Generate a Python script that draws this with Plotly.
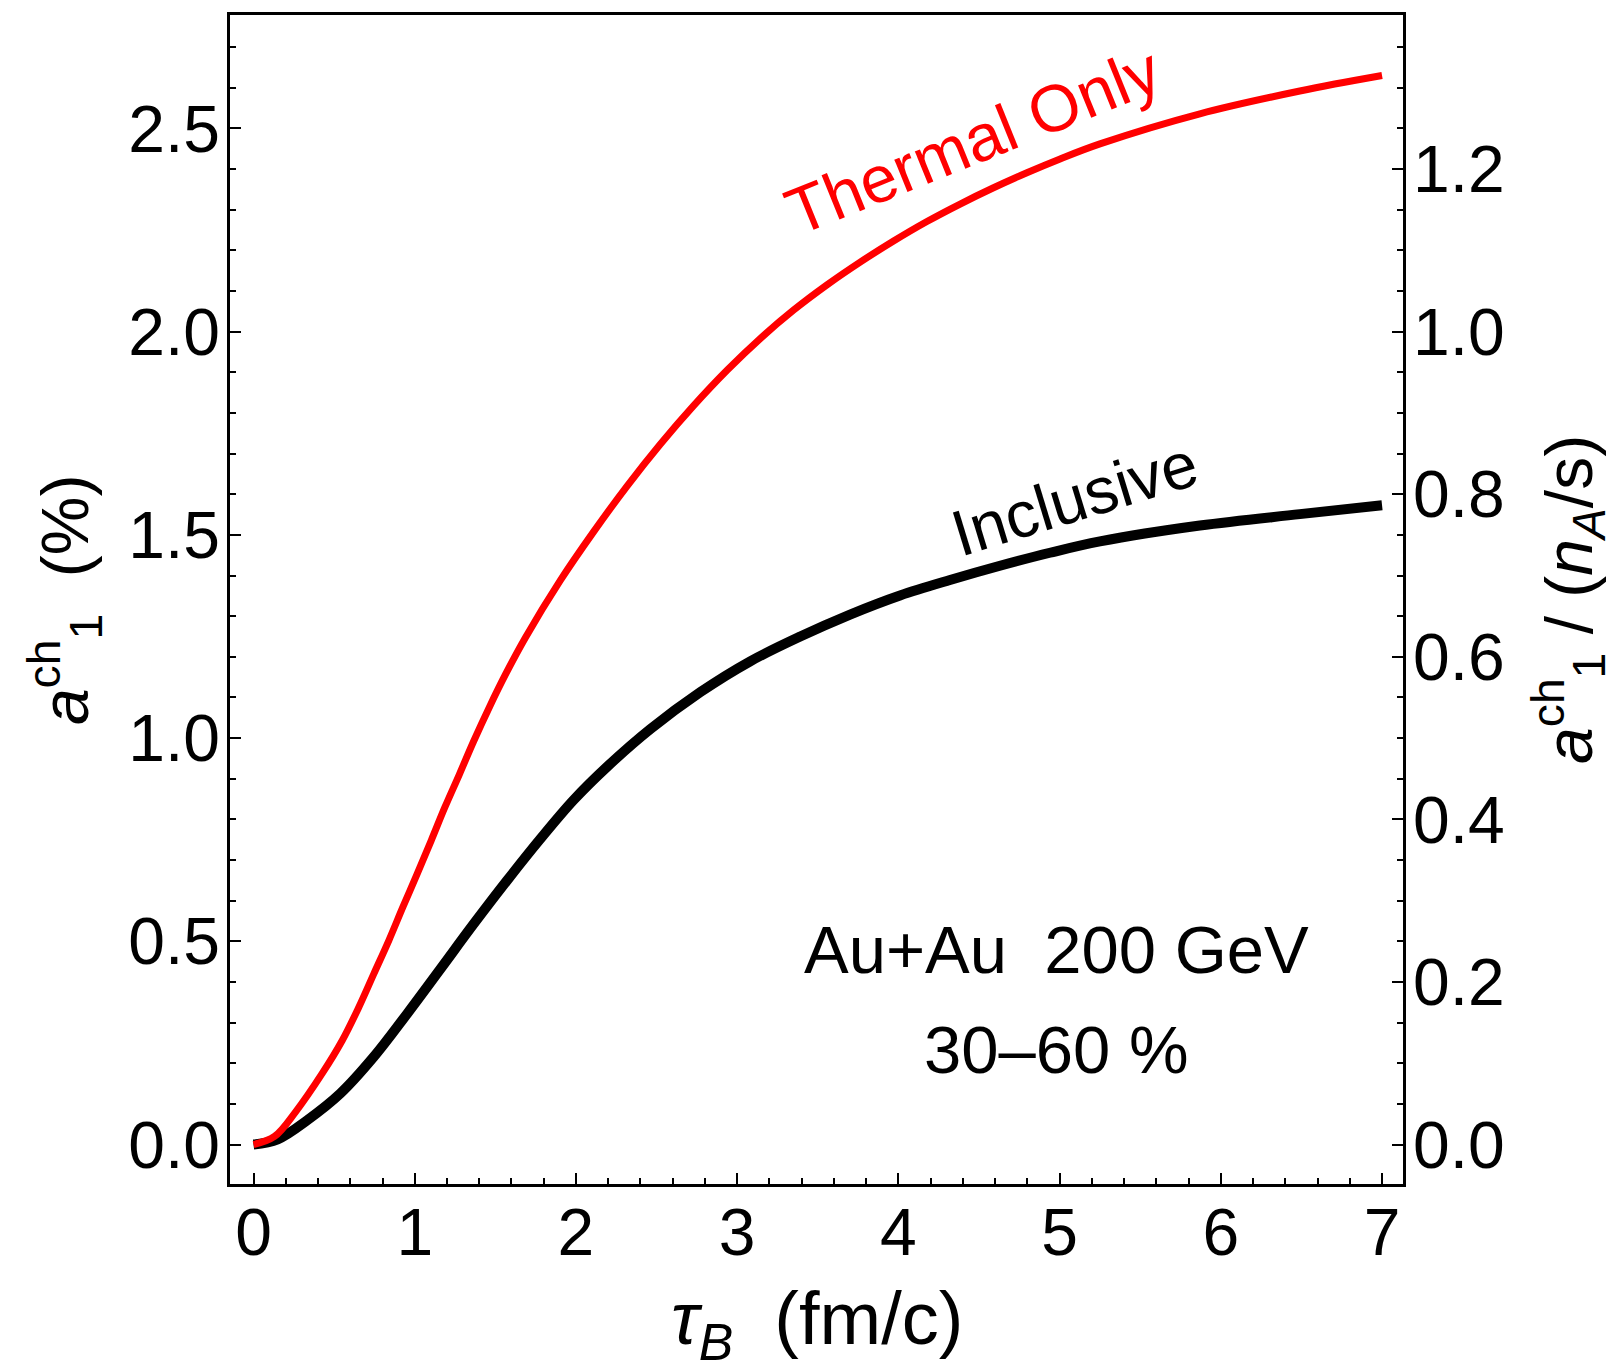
import plotly.graph_objects as go

# ---- data ----
tau_thermal = [0, 0.13, 0.26, 0.426, 0.55, 0.653, 0.746, 0.839, 0.926, 1.015,
               1.102, 1.187, 1.277, 1.366, 1.465, 1.562, 1.686, 1.903, 2.11, 2.317,
               2.523, 2.73, 2.937, 3.143, 3.35, 3.557, 3.763, 3.97, 4.177, 4.383,
               4.59, 4.797, 5.003, 5.25, 5.87, 6.49, 7.0]
a1_thermal = [0, 0.02, 0.08, 0.175, 0.256, 0.338, 0.42, 0.502, 0.584, 0.666,
              0.748, 0.83, 0.911, 0.993, 1.078, 1.156, 1.247, 1.388, 1.508, 1.62,
              1.723, 1.818, 1.905, 1.983, 2.053, 2.115, 2.171, 2.223, 2.271, 2.314,
              2.354, 2.391, 2.425, 2.462, 2.536, 2.592, 2.63]

tau_inclusive = [0, 0.15, 0.333, 0.539, 0.746, 0.953, 1.159, 1.366, 1.573, 1.779,
                 1.986, 2.2, 2.461, 2.771, 3.081, 3.391, 3.70, 4.01, 4.32, 4.63,
                 4.94, 5.25, 5.87, 6.49, 7.0]
a1_inclusive = [0, 0.013, 0.06, 0.126, 0.216, 0.322, 0.432, 0.543, 0.65, 0.752,
                0.848, 0.932, 1.022, 1.113, 1.189, 1.25, 1.304, 1.351, 1.389, 1.424,
                1.456, 1.484, 1.523, 1.551, 1.573]

right_scale = 2.0  # a1 (%) divided by this gives the right-axis value
x_ticks = [0, 1, 2, 3, 4, 5, 6, 7]

FONT = "Liberation Sans, Arial, Helvetica, sans-serif"
FS = 66

fig = go.Figure()
fig.add_trace(go.Scatter(x=tau_inclusive, y=a1_inclusive, mode="lines",
                         line=dict(color="#000000", width=10, shape="spline", smoothing=1.0),
                         hoverinfo="skip", showlegend=False))
fig.add_trace(go.Scatter(x=tau_thermal, y=a1_thermal, mode="lines",
                         line=dict(color="#ff0000", width=7, shape="spline", smoothing=1.0),
                         hoverinfo="skip", showlegend=False))
# invisible trace that activates the right axis
fig.add_trace(go.Scatter(x=tau_inclusive, y=[v / right_scale for v in a1_inclusive],
                         mode="lines", line=dict(width=0, color="rgba(0,0,0,0)"),
                         yaxis="y2", hoverinfo="skip", showlegend=False))

ymin, ymax = -0.097, 2.779

axis_common = dict(showline=True, linewidth=2.5, linecolor="black", showgrid=False,
                   zeroline=False, ticks="inside", tickwidth=2, ticklen=11,
                   tickcolor="black", tickfont=dict(family=FONT, size=FS, color="black"))
minor_common = dict(ticks="inside", ticklen=6, tickwidth=1.5, tickcolor="black")

fig.update_layout(
    width=1613, height=1363,
    margin=dict(l=222, r=218, t=4, b=187),
    plot_bgcolor="white", paper_bgcolor="white",
    font=dict(family=FONT, size=FS, color="black"),
    xaxis=dict(range=[-0.146, 7.13], tickvals=x_ticks, mirror=True,
               ticklabelstandoff=-11,
               minor=dict(dtick=0.2, tick0=0, **minor_common),
               **axis_common),
    yaxis=dict(range=[ymin, ymax], dtick=0.5, tick0=0, tickformat=".1f",
               ticklabelstandoff=-6,
               minor=dict(dtick=0.1, tick0=0, **minor_common),
               **axis_common),
    yaxis2=dict(range=[ymin / right_scale, ymax / right_scale], overlaying="y",
                side="right", dtick=0.2, tick0=0, tickformat=".1f",
                ticklabelstandoff=-6,
                minor=dict(dtick=0.05, tick0=0, **minor_common),
                **axis_common),
)

annotations = [
    dict(text="<i>τ</i><sub><i>B</i></sub>&nbsp; (fm/c)", xref="paper", yref="paper",
         x=0.5, y=-0.12, xanchor="center", yanchor="middle", showarrow=False,
         font=dict(family=FONT, size=74, color="black")),
    dict(text="<i>a</i><sup>ch</sup><sub>1</sub>&nbsp; (%)", xref="paper", yref="paper",
         x=-0.141, y=0.5, xanchor="center", yanchor="middle", showarrow=False,
         textangle=-90, font=dict(family=FONT, size=FS, color="black")),
    dict(text="<i>a</i><sup>ch</sup><sub>1</sub> / (<i>n</i><sub><i>A</i></sub>/s)",
         xref="paper", yref="paper", x=1.141, y=0.5, xanchor="center", yanchor="middle",
         showarrow=False, textangle=-90, font=dict(family=FONT, size=FS, color="black")),
    dict(text="Thermal Only", x=4.46, y=2.468, xref="x", yref="y", showarrow=False,
         textangle=-22, xanchor="center", yanchor="middle",
         font=dict(family=FONT, size=66, color="#ff0000")),
    dict(text="Inclusive", x=5.09, y=1.59, xref="x", yref="y", showarrow=False,
         textangle=-17, xanchor="center", yanchor="middle",
         font=dict(family=FONT, size=65, color="black")),
    dict(text="Au+Au&nbsp; 200 GeV", x=4.98, y=0.48, xref="x", yref="y", showarrow=False,
         xanchor="center", yanchor="middle", font=dict(family=FONT, size=67, color="black")),
    dict(text="30–60 %", x=4.98, y=0.235, xref="x", yref="y", showarrow=False,
         xanchor="center", yanchor="middle", font=dict(family=FONT, size=67, color="black")),
]
fig.update_layout(annotations=annotations)

fig.write_html("out.html")
